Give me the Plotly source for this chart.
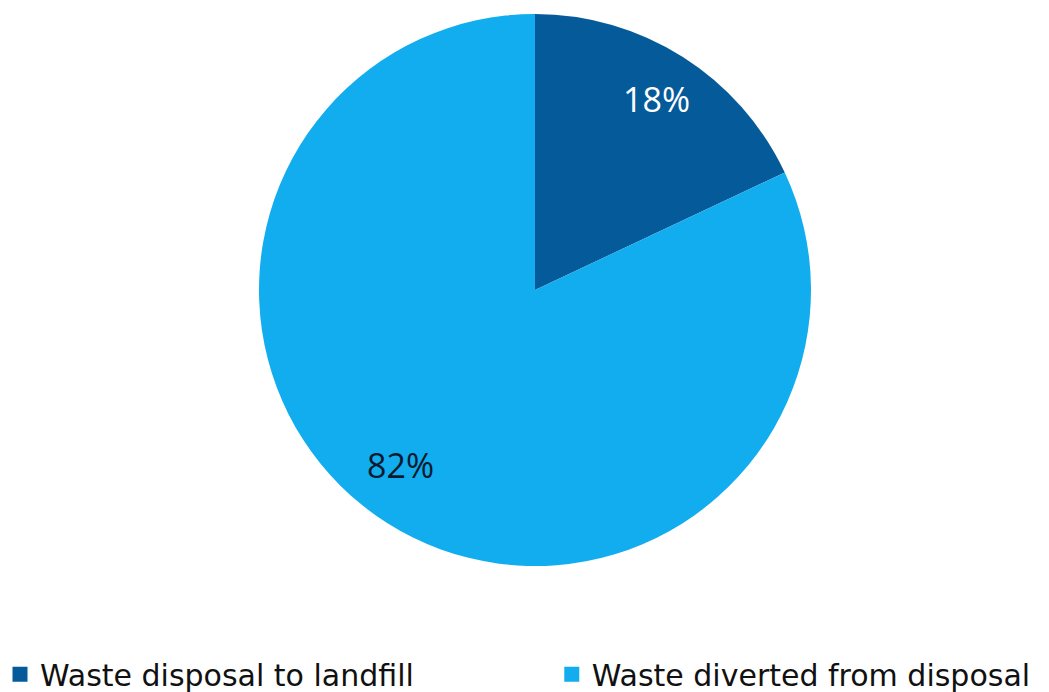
import math
import plotly.graph_objects as go

labels = ["Waste disposal to landfill", "Waste diverted from disposal"]
values = [18, 82]
colors = ["#055A9A", "#12ADEE"]
text_colors = ["#FFFFFF", "#0B1A2E"]

W, H = 1049, 692
cx_px, cy_px, r_px = 535, 290, 276
# label placement style: radial fraction and angular nudge (degrees) per slice
label_r = [0.82, 0.80]
label_nudge_deg = [0.0, 5.0]

fig = go.Figure(go.Pie(
    labels=labels,
    values=values,
    sort=False,
    direction="clockwise",
    rotation=0,
    marker=dict(colors=colors, line=dict(width=0)),
    textinfo="none",
    showlegend=False,
    domain=dict(x=[(cx_px - r_px) / W, (cx_px + r_px) / W],
                y=[1 - (cy_px + r_px) / H, 1 - (cy_px - r_px) / H]),
    hoverinfo="skip",
))

# legend entries (one per slice), split across two legends to match spacing
for i, (lab, col) in enumerate(zip(labels, colors)):
    fig.add_trace(go.Scatter(
        x=[None], y=[None], mode="markers", name=lab,
        marker=dict(symbol="square", color=col, size=15),
        legend="legend" if i == 0 else "legend2",
        hoverinfo="skip",
    ))

# percentage labels placed at slice mid-angles derived from the values
total = sum(values)
cum = 0
annotations = []
for v, tc, lr, nd in zip(values, text_colors, label_r, label_nudge_deg):
    mid = (cum + v / 2) / total * 2 * math.pi + math.radians(nd)
    cum += v
    x = (cx_px + lr * r_px * math.sin(mid)) / W
    y = 1 - (cy_px - lr * r_px * math.cos(mid)) / H
    annotations.append(dict(
        x=x, y=y, xref="paper", yref="paper",
        xanchor="center", yanchor="middle",
        text=f"{v}%", showarrow=False,
        font=dict(family="Open Sans", size=34, color=tc),
    ))

legend_font = dict(family="DejaVu Sans", size=30, color="#111111")
fig.update_layout(
    width=W, height=H,
    margin=dict(l=0, r=0, t=0, b=0, autoexpand=False),
    paper_bgcolor="white",
    plot_bgcolor="white",
    showlegend=True,
    annotations=annotations,
    xaxis=dict(visible=False),
    yaxis=dict(visible=False),
    legend=dict(
        orientation="h", x=0.0, y=-0.012, xanchor="left", yanchor="bottom",
        font=legend_font, bgcolor="rgba(0,0,0,0)",
    ),
    legend2=dict(
        orientation="h", x=0.526, y=-0.012, xanchor="left", yanchor="bottom",
        font=legend_font, bgcolor="rgba(0,0,0,0)",
    ),
)

fig.write_html("out.html", config={"displayModeBar": False},
               post_script="document.body.style.margin='0';")
